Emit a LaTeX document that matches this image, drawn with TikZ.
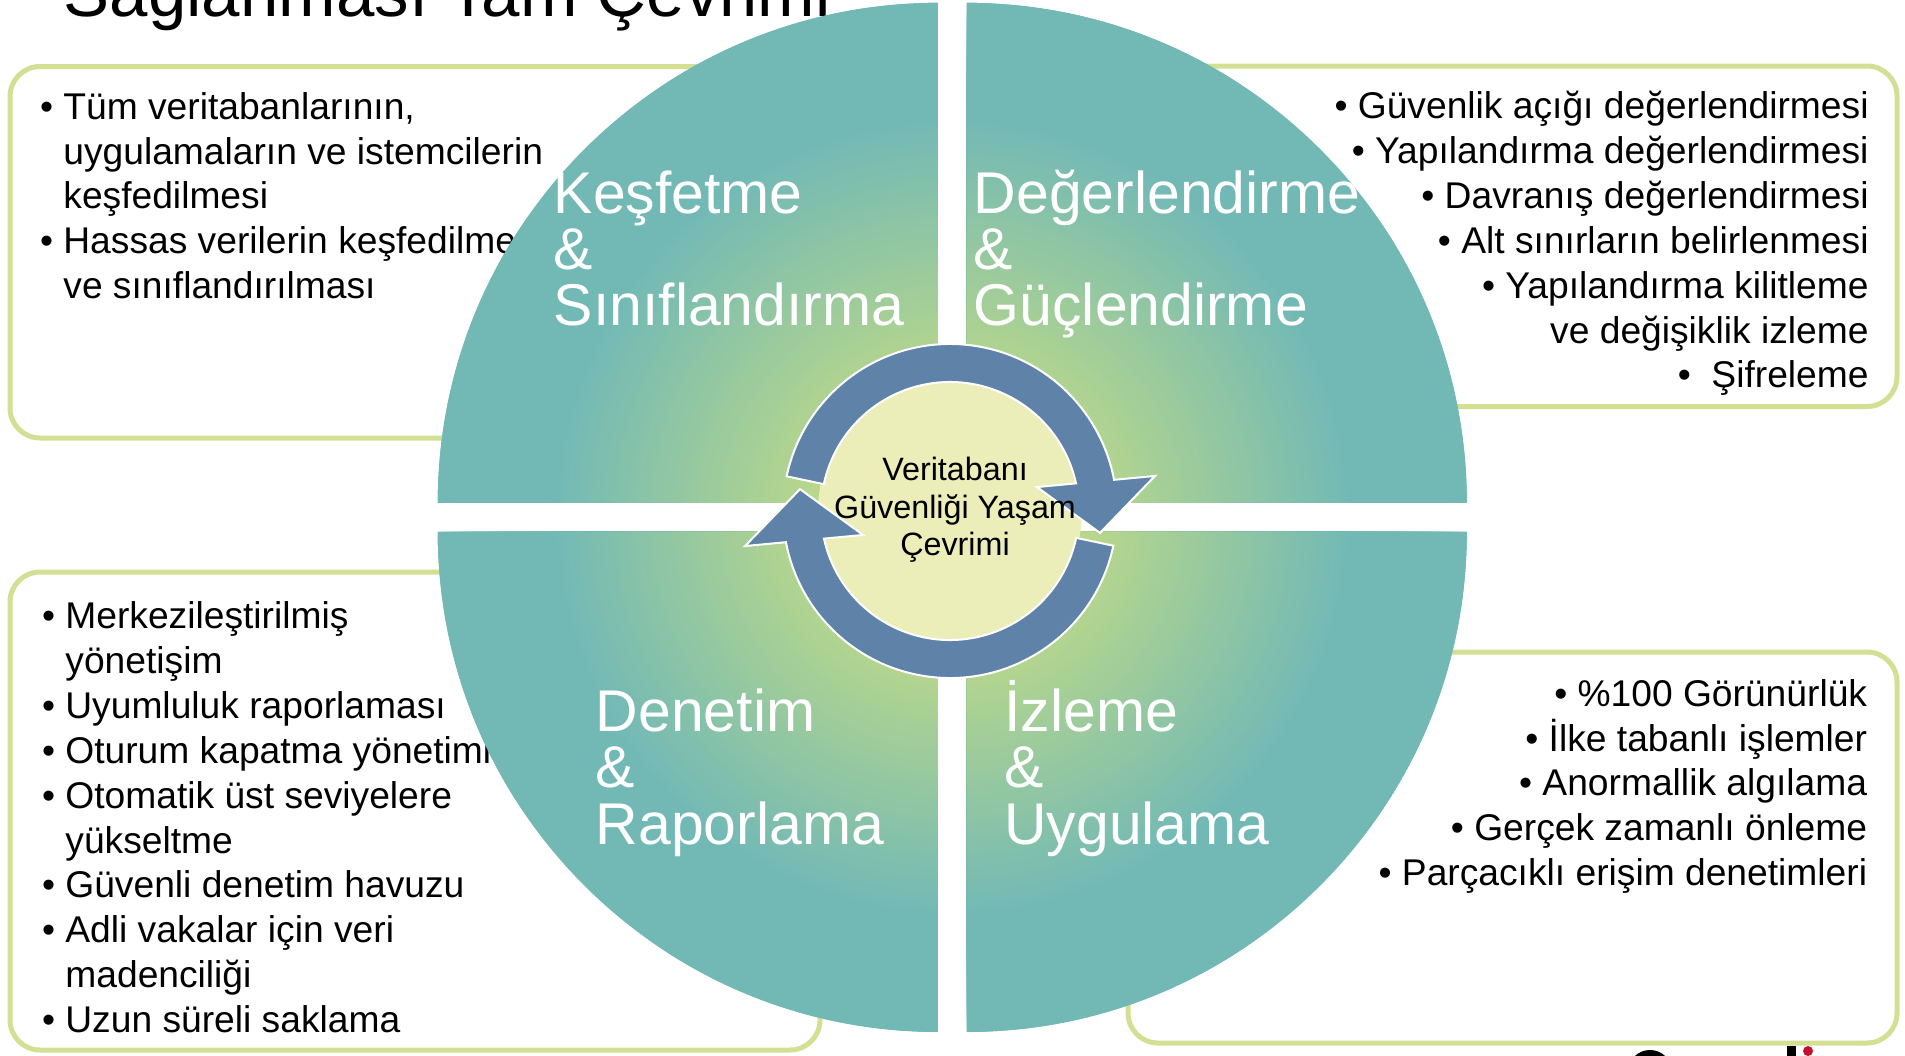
\documentclass[tikz,border=0pt]{standalone}
\usepackage{fontspec}
\setmainfont{Liberation Sans}
\definecolor{qteal}{HTML}{72B9B6}
\definecolor{qgreen}{HTML}{B9D78B}
\definecolor{ringblue}{HTML}{5F82A8}
\definecolor{diskyellow}{HTML}{ECEEB9}
\definecolor{boxgreen}{HTML}{D3E093}
\definecolor{logored}{HTML}{C8102E}
\newcommand\boxfont{\fontsize{18.6pt}{22.3pt}\selectfont}
\newcommand\quadfont{\fontsize{29.45pt}{28pt}\selectfont}
\newcommand\centerfont{\fontsize{16.15pt}{19pt}\selectfont}
\newcommand\titlefont{\fontsize{34.5pt}{40pt}\selectfont}
\newcommand\bul{\llap{•\hspace{5.15pt}}}
\newcommand\LineW[4]{\node[btext,anchor=base west] (#1) at (#2,-#3) {#4};}
\newcommand\LineE[4]{\node[btext,anchor=base east] (#1) at (#2,-#3) {#4};}
\tikzset{
  infobox/.style={draw=boxgreen, line width=2.5pt, rounded corners=15pt, fill=white},
  btext/.style={font=\boxfont, inner sep=0pt, text=black},
  qlabel/.style={font=\quadfont, inner sep=0pt, text=white, anchor=base west},
  ctext/.style={font=\centerfont, inner sep=0pt, text=black, anchor=base},
  arrowpart/.style={fill=ringblue, draw=white, line width=1pt, line join=miter},
}
\begin{document}
\begin{tikzpicture}[x=0.5pt,y=0.5pt]
\useasboundingbox (0,0) rectangle (1905,-1055);
\fill[white] (0,0) rectangle (1905,-1055);

% title (cut by the top edge, as in the reference)
\node[anchor=base west, font=\titlefont, inner sep=0pt] (title) at (63.5,-16) {Sağlanması Tam Çevrimi};

% info boxes
\draw[infobox] (10,-66.5) rectangle (800,-438);
\draw[infobox] (1100,-66) rectangle (1897,-406.5);
\draw[infobox] (10,-572) rectangle (820,-1050);
\draw[infobox] (1128,-652) rectangle (1897,-1043);

% top-left box text
\LineW{tl1}{63}{119}{\bul Tüm veritabanlarının,}
\LineW{tl2}{63}{164}{uygulamaların ve istemcilerin}
\LineW{tl3}{63}{208.5}{keşfedilmesi}
\LineW{tl4}{63}{253}{\bul Hassas verilerin keşfedilmesi}
\LineW{tl5}{63}{298}{ve sınıflandırılması}

% top-right box text
\LineE{tr1}{1869}{118.5}{• Güvenlik açığı değerlendirmesi}
\LineE{tr2}{1869}{163.3}{• Yapılandırma değerlendirmesi}
\LineE{tr3}{1869}{208}{• Davranış değerlendirmesi}
\LineE{tr4}{1869}{253}{• Alt sınırların belirlenmesi}
\LineE{tr5}{1869}{298}{• Yapılandırma kilitleme}
\LineE{tr6}{1869}{343}{ve değişiklik izleme}
\LineE{tr7}{1869}{387.5}{• \ Şifreleme}

% bottom-left box text
\LineW{bl1}{65}{628}{\bul Merkezileştirilmiş}
\LineW{bl2}{65}{673}{yönetişim}
\LineW{bl3}{65}{718}{\bul Uyumluluk raporlaması}
\LineW{bl4}{65}{763}{\bul Oturum kapatma yönetimi}
\LineW{bl5}{65}{808}{\bul Otomatik üst seviyelere}
\LineW{bl6}{65}{853}{yükseltme}
\LineW{bl7}{65}{897.5}{\bul Güvenli denetim havuzu}
\LineW{bl8}{65}{942}{\bul Adli vakalar için veri}
\LineW{bl9}{65}{987}{madenciliği}
\LineW{bl10}{65}{1032}{\bul Uzun süreli saklama}

% bottom-right box text
\LineE{br1}{1867.5}{706.5}{• \%100 Görünürlük}
\LineE{br2}{1867.5}{751}{• İlke tabanlı işlemler}
\LineE{br3}{1867.5}{795.5}{• Anormallik algılama}
\LineE{br4}{1867.5}{840}{• Gerçek zamanlı önleme}
\LineE{br5}{1867.5}{885}{• Parçacıklı erişim denetimleri}

% four quadrants with radial gradient
\begin{scope}
\clip (937.8,-502.9) -- (437.8,-502.9) arc[start angle=180,end angle=90,radius=500] -- cycle
      (966.8,-502.9) -- (966.8,-2.9) arc[start angle=90,end angle=0,radius=500] -- cycle
      (966.8,-531.9) -- (1466.8,-531.9) arc[start angle=0,end angle=-90,radius=500] -- cycle
      (937.8,-531.9) -- (937.8,-1031.9) arc[start angle=-90,end angle=-180,radius=500] -- cycle;
\foreach \r in {525,520,...,5}{
  \pgfmathsetmacro\qmix{min(100,max(0,(\r-140)/2.6))}
  \fill[qteal!\qmix!qgreen] (952.3,-517.4) circle[radius=\r];
}
\end{scope}

% quadrant labels
\node[qlabel] (k1) at (553.5,-213) {Keşfetme};
\node[qlabel] (k2) at (553.5,-269) {\&};
\node[qlabel] (k3) at (553.5,-325) {Sınıflandırma};
\node[qlabel] (d1) at (973.5,-213) {Değerlendirme};
\node[qlabel] (d2) at (973.5,-269) {\&};
\node[qlabel] (d3) at (973.5,-325) {Güçlendirme};
\node[qlabel] (r1) at (595.5,-731) {Denetim};
\node[qlabel] (r2) at (595.5,-787.5) {\&};
\node[qlabel] (r3) at (595.5,-844) {Raporlama};
\node[qlabel] (u1) at (1004,-731) {İzleme};
\node[qlabel] (u2) at (1004,-787.5) {\&};
\node[qlabel] (u3) at (1004,-844) {Uygulama};

% central cycle
\begin{scope}[shift={(950,-511)}]
  \fill[diskyellow] (0,0) circle[radius=132];
  \path[arrowpart] (168:167) arc[start angle=168,end angle=10.77,radius=167]
     -- (9.7:208) -- (-8.3:151.6) -- (15.4:90.2) -- (12.36:129)
     arc[start angle=12.36,end angle=168,radius=129] -- cycle;
\end{scope}
\begin{scope}[shift={(950,-511)},rotate=180]
  \path[arrowpart] (168:167) arc[start angle=168,end angle=10.77,radius=167]
     -- (9.7:208) -- (-8.3:151.6) -- (15.4:90.2) -- (12.36:129)
     arc[start angle=12.36,end angle=168,radius=129] -- cycle;
\end{scope}

\node[ctext] (c1) at (955,-480) {Veritabanı};
\node[ctext] (c2) at (955,-518) {Güvenliği Yaşam};
\node[ctext] (c3) at (955,-555) {Çevrimi};

% logo fragment at the bottom edge
\draw[line width=5pt, black] (1650,-1072) circle[radius=17];
\fill[black] (1787,-1046) rectangle (1796,-1060);
\fill[logored] (1808,-1051) circle[radius=5];
\end{tikzpicture}
\end{document}
